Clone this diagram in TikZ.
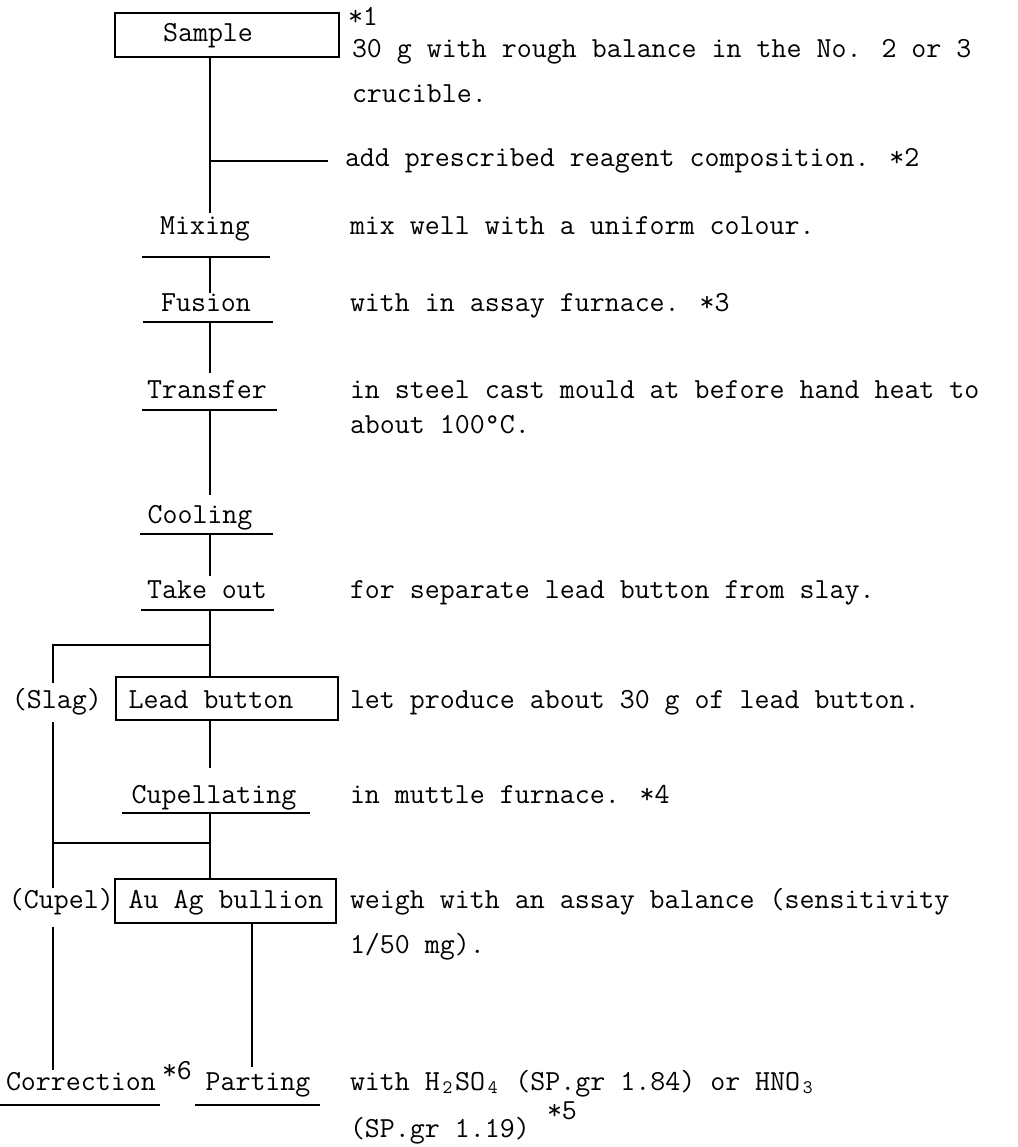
\documentclass[tikz,border=0pt]{standalone}
\newcommand{\chemsub}[1]{\makebox[0.525em][c]{\raisebox{-0.3ex}{\fontsize{19}{19}\selectfont #1}}}
\begin{document}
\begin{tikzpicture}[x=1pt,y=-1pt,
  every node/.style={inner sep=0pt, outer sep=0pt},
  font=\fontsize{29.1}{34}\selectfont\ttfamily,
  txt/.style={anchor=base west},
  lbl/.style={anchor=base},
  boxnode/.style={draw, line width=1.4pt, rectangle},
  flow/.style={line width=2.2pt},
  rulel/.style={line width=1.4pt},
  branch/.style={line width=1.6pt}]
\useasboundingbox (0,0) rectangle (1017,1147);
\fill[white] (0,0) rectangle (1017,1147);

% ---------- boxes ----------
\node[boxnode, minimum width=224pt, minimum height=44pt] (samplebox) at (227,35) {};
\node[boxnode, minimum width=222pt, minimum height=43pt] (leadbox) at (227,698.5) {};
\node[boxnode, minimum width=221pt, minimum height=44pt] (aubox) at (225.5,901) {};

% ---------- flow labels ----------
\node[lbl] (sample) at (208,42) {Sample};
\node[lbl] (mixing) at (205,235) {Mixing};
\node[lbl] (fusion) at (206,312) {Fusion};
\node[lbl] (transfer) at (207,398) {Transfer};
\node[lbl] (cooling) at (200,523) {Cooling};
\node[lbl] (takeout) at (207,598) {Take out};
\node[lbl] (lead) at (211,708) {Lead button};
\node[lbl] (cupellating) at (214,803) {Cupellating};
\node[lbl] (auag) at (226,908) {Au Ag bullion};
\node[txt] (slag) at (12,708) {(Slag)};
\node[txt] (cupel) at (9,908) {(Cupel)};
\node[txt] (correction) at (6,1090) {Correction};
\node[txt] (star6) at (162,1079) {*6};
\node[lbl] (parting) at (258,1090) {Parting};

% ---------- notes ----------
\node[txt] (n1) at (348,26) {*1};
\node[txt] (n2) at (352,58) {30 g with rough balance in the No. 2 or 3};
\node[txt] (n3) at (352,103) {crucible.};
\node[txt] (n4) at (345,167) {add prescribed reagent composition. *2};
\node[txt] (n5) at (350,235) {mix well with a uniform colour.};
\node[txt] (n6) at (350,312) {with in assay furnace. *3};
\node[txt] (n7) at (350,398) {in steel cast mould at before hand heat to};
\node[txt] (n8) at (350,433) {about 100\textdegree C.};
\node[txt] (n9) at (350,598) {for separate lead button from slay.};
\node[txt] (n10) at (350,708) {let produce about 30 g of lead button.};
\node[txt] (n11) at (350,803) {in muttle furnace. *4};
\node[txt] (n12) at (350,908) {weigh with an assay balance (sensitivity};
\node[txt] (n13) at (350,953) {1/50 mg).};
\node[txt] (n14) at (350,1090) {with H\chemsub{2}SO\chemsub{4} (SP.gr 1.84) or HNO\chemsub{3}};
\node[txt] (n15) at (350,1137) {(SP.gr 1.19)};
\node[txt] (star5) at (547,1119) {*5};

% ---------- junction coordinates ----------
\coordinate (mixT) at (210,213);
\coordinate (addB) at (210,161);
\coordinate (addE) at (328,161);
\coordinate (mixC) at (210,257);
\coordinate (mixL) at (142,257);
\coordinate (mixR) at (270,257);
\coordinate (fusT) at (210,293);
\coordinate (fusC) at (210,322);
\coordinate (fusL) at (143,322);
\coordinate (fusR) at (273,322);
\coordinate (traT) at (210,373);
\coordinate (traC) at (210,410);
\coordinate (traL) at (142,410);
\coordinate (traR) at (277,410);
\coordinate (cooT) at (210,495);
\coordinate (cooC) at (210,534);
\coordinate (cooL) at (140,534);
\coordinate (cooR) at (273,534);
\coordinate (takT) at (210,576);
\coordinate (takC) at (210,610);
\coordinate (takL) at (141,610);
\coordinate (takR) at (274,610);
\coordinate (slagJ) at (210,645);
\coordinate (slagL) at (53,645);
\coordinate (slagA) at (53,683);
\coordinate (slagB) at (53,722);
\coordinate (cupA) at (53,888);
\coordinate (cupB) at (53,927);
\coordinate (corT) at (53,1070);
\coordinate (cupT) at (210,768);
\coordinate (cupC) at (210,813);
\coordinate (cupL) at (122,813);
\coordinate (cupR) at (310,813);
\coordinate (cupJ) at (210,843);
\coordinate (cupLJ) at (53,843);
\coordinate (parT) at (252,1067);
\coordinate (corL) at (0,1105);
\coordinate (corR) at (160,1105);
\coordinate (parL) at (195,1105);
\coordinate (parR) at (320,1105);

% ---------- underlines ----------
\draw[rulel] (mixL) -- (mixR);
\draw[rulel] (fusL) -- (fusR);
\draw[rulel] (traL) -- (traR);
\draw[rulel] (cooL) -- (cooR);
\draw[rulel] (takL) -- (takR);
\draw[rulel] (cupL) -- (cupR);
\draw[rulel] (corL) -- (corR);
\draw[rulel] (parL) -- (parR);

% ---------- connectors ----------
\draw[flow] (samplebox.south -| mixT) -- (mixT);
\draw[branch] (addB) -- (addE);
\draw[flow] (mixC) -- (fusT);
\draw[flow] (fusC) -- (traT);
\draw[flow] (traC) -- (cooT);
\draw[flow] (cooC) -- (takT);
\draw[flow] (takC) -- (leadbox.north -| takC);
\draw[branch] (slagJ) -- (slagL) -- (slagA);
\draw[flow] (slagB) -- (cupA);
\draw[flow] (cupB) -- (corT);
\draw[flow] (leadbox.south -| cupT) -- (cupT);
\draw[flow] (cupC) -- (aubox.north -| cupC);
\draw[branch] (cupJ) -- (cupLJ);
\draw[flow] (aubox.south -| parT) -- (parT);
\end{tikzpicture}
\end{document}
